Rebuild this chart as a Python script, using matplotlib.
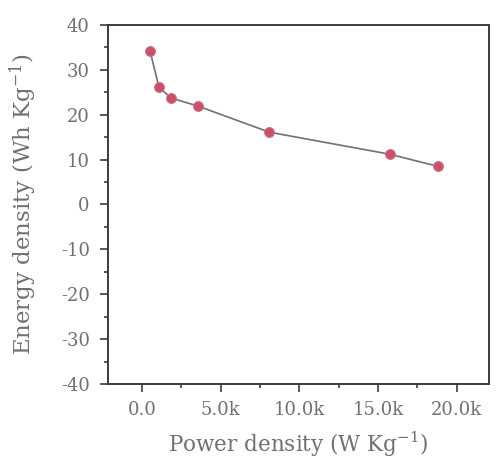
import matplotlib
matplotlib.use("Agg")
import matplotlib.pyplot as plt
from matplotlib.ticker import MultipleLocator, FuncFormatter

power_density = [510, 1080, 1850, 3570, 8090, 15730, 18790]
energy_density = [34.2, 26.1, 23.7, 21.9, 16.1, 11.2, 8.5]

x_label = "Power density (W Kg$^{-1}$)"
y_label = "Energy density (Wh Kg$^{-1}$)"

plt.rcParams['font.family'] = ['DejaVu Serif']
plt.rcParams['mathtext.fontset'] = 'dejavuserif'
plt.rcParams['axes.unicode_minus'] = False

fig = plt.figure(figsize=(4.97, 4.61), dpi=100)
ax = fig.add_axes([0.217, 0.167, 0.767, 0.779])

ax.plot(power_density, energy_density, color='#6f6f75', lw=1.2,
        marker='o', markersize=7, markerfacecolor='#c9506b',
        markeredgecolor='#d06a80', markeredgewidth=0.8)

ax.set_xlim(-2170, 22050)
ax.set_ylim(-40, 40)
ax.xaxis.set_major_locator(MultipleLocator(5000))
ax.xaxis.set_minor_locator(MultipleLocator(2500))
ax.yaxis.set_major_locator(MultipleLocator(10))
ax.yaxis.set_minor_locator(MultipleLocator(5))

def kfmt(v, pos):
    if abs(v) < 1e-9:
        return "0.0"
    return f"{v/1000:.1f}k"
ax.xaxis.set_major_formatter(FuncFormatter(kfmt))

text_color = '#707070'
for s in ax.spines.values():
    s.set_color('#3a3a44')
    s.set_linewidth(1.4)
ax.tick_params(which='both', direction='out', colors='#3a3a44', labelcolor=text_color,
               labelsize=13, width=1.2)
ax.tick_params(which='major', length=6)
ax.tick_params(which='minor', length=3)
ax.tick_params(axis='y', pad=7)
ax.tick_params(axis='x', pad=6)

ax.set_xlabel(x_label, fontsize=15.5, color=text_color, labelpad=8)
ax.set_ylabel(y_label, fontsize=16.5, color=text_color, labelpad=16)

fig.savefig("out.png", dpi=100)
